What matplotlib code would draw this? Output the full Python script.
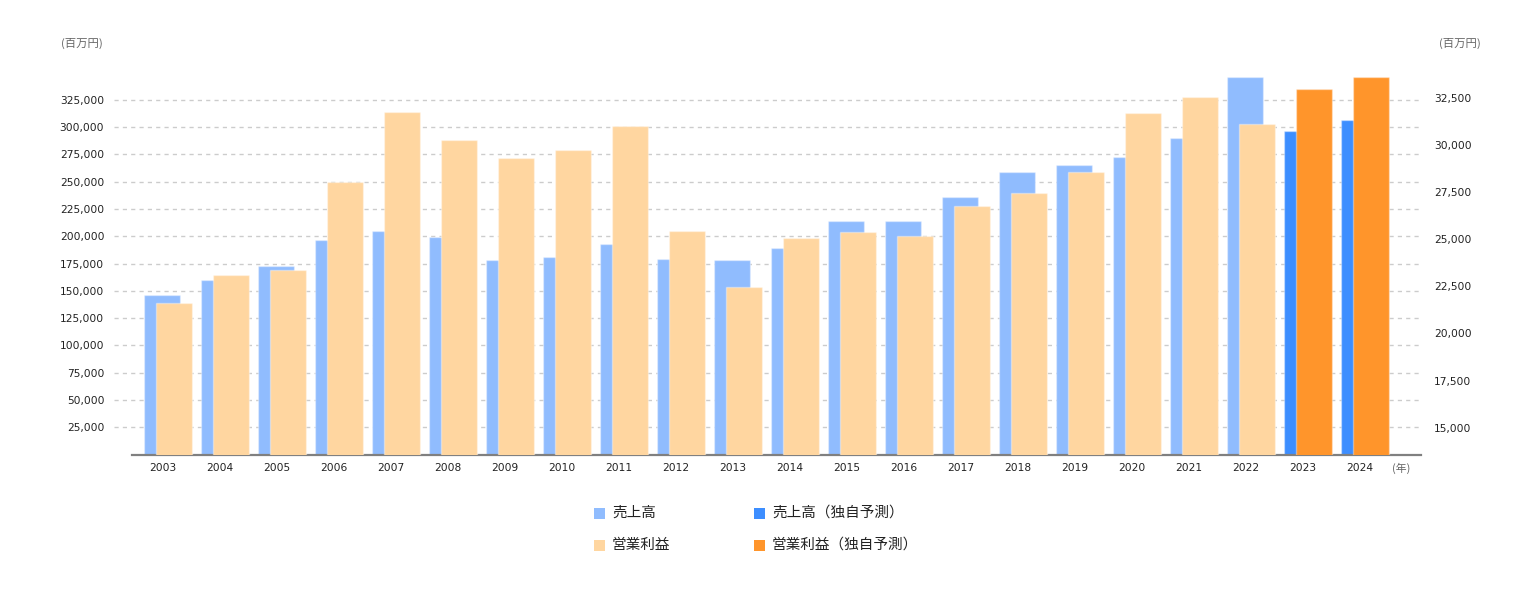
import matplotlib
matplotlib.use("Agg")
import matplotlib.pyplot as plt
from matplotlib.patches import Rectangle
from matplotlib.ticker import FuncFormatter
import matplotlib.transforms as mtransforms

plt.rcParams["font.family"] = ["DejaVu Sans", "Noto Sans CJK JP"]

# data (sales: left axis, operating profit: right axis, 百万円)
years = [str(y) for y in range(2003, 2025)]
sales = [146500, 160000, 172900, 196700, 204900, 199400, 178300, 181100,
         193000, 179300, 178300, 189300, 214100, 214100, 236100, 259000,
         265400, 272500, 290200, 346000, 296600, 306700]
op_profit = [21620, 23100, 23370, 28040, 31760, 30270, 29320, 29740,
             31010, 25440, 22470, 25070, 25390, 25180, 26770, 27460,
             28570, 31700, 32550, 31120, 32980, 33615]
forecast = [False] * 20 + [True, True]

left_ticks = list(range(25000, 325001, 25000))
right_ticks = list(range(15000, 32501, 2500))

legend_labels = ["売上高", "売上高（独自予測）", "営業利益", "営業利益（独自予測）"]

c_sales = "#90bcfe"
c_sales_fc = "#3d8eff"
c_op = "#ffd6a0"
c_op_fc = "#ff952b"
legend_colors = [c_sales, c_sales_fc, c_op, c_op_fc]

fig = plt.figure(figsize=(15.4, 6), dpi=100)
ax = fig.add_axes([132 / 1540, 1 - 454.6 / 600, (1421 - 132) / 1540, (454.6 - 77) / 600])
ax2 = ax.twinx()

x = list(range(len(years)))
w = 36 / 57
off = 12 / 57

sales_colors = [c_sales_fc if f else c_sales for f in forecast]
op_colors = [c_op_fc if f else c_op for f in forecast]

ax.bar(x, sales, width=w, color=sales_colors, edgecolor=(1, 1, 1, 0.35),
       linewidth=1, zorder=3)
ax2.bar([i + off for i in x], op_profit, width=w, color=op_colors,
        edgecolor=(1, 1, 1, 0.35), linewidth=1, zorder=3)

ax.set_xlim(-30 / 57, (1421 - 162) / 57)
ax.set_ylim(0, 346000)
ax2.set_ylim(13572, 33615)

# dashed grid following the left axis, running a bit past the plot on the left
trans = mtransforms.blended_transform_factory(ax.transAxes, ax.transData)
for t in left_ticks:
    ax.plot([-18 / 1289, 1 - 2 / 1289], [t, t], transform=trans, color="#cccccc",
            linestyle=(0, (3, 3)), linewidth=1, zorder=1, clip_on=False)

fmt = FuncFormatter(lambda v, p: f"{int(v):,}")
ax.set_yticks(left_ticks)
ax.yaxis.set_major_formatter(fmt)
ax.tick_params(axis="y", length=0, pad=20, labelsize=7.7, labelcolor="#222222")
ax2.set_yticks(right_ticks)
ax2.yaxis.set_major_formatter(fmt)
ax2.tick_params(axis="y", length=0, pad=9.5, labelsize=7.7, labelcolor="#222222")

ax.set_xticks([i + 1 / 57 for i in x])
ax.set_xticklabels(years)
ax.tick_params(axis="x", length=0, pad=6, labelsize=7.7, labelcolor="#222222")

for a in (ax, ax2):
    for s in ("top", "left", "right", "bottom"):
        a.spines[s].set_visible(False)
ax.spines["bottom"].set_visible(True)
ax.spines["bottom"].set_color("#808080")
ax.spines["bottom"].set_linewidth(1.6)
ax.spines["bottom"].set_zorder(5)

# unit labels
fig.text(61 / 1540, 1 - 43 / 600, "(百万円)", fontsize=8.2, color="#666666",
         ha="left", va="center", family=["Noto Sans CJK JP"])
fig.text(1439 / 1540, 1 - 43 / 600, "(百万円)", fontsize=8.2, color="#666666",
         ha="left", va="center", family=["Noto Sans CJK JP"])
fig.text(1392 / 1540, 1 - 468 / 600, "(年)", fontsize=7.8, color="#666666",
         ha="left", va="center", family=["Noto Sans CJK JP"])

# legend, two columns
leg_x = [594, 754]
leg_y = [513, 545]
for k, (lab, col) in enumerate(zip(legend_labels, legend_colors)):
    cx = leg_x[k % 2]
    cy = leg_y[k // 2]
    fig.patches.append(Rectangle((cx / 1540, 1 - (cy + 5.5) / 600), 11 / 1540, 11 / 600,
                                 transform=fig.transFigure, facecolor=col,
                                 edgecolor="none"))
    fig.text((cx + 18) / 1540, 1 - cy / 600, lab, fontsize=10.5, color="#222222",
             ha="left", va="center", family=["Noto Sans CJK JP", "DejaVu Sans"])

fig.savefig("out.png", dpi=100)
